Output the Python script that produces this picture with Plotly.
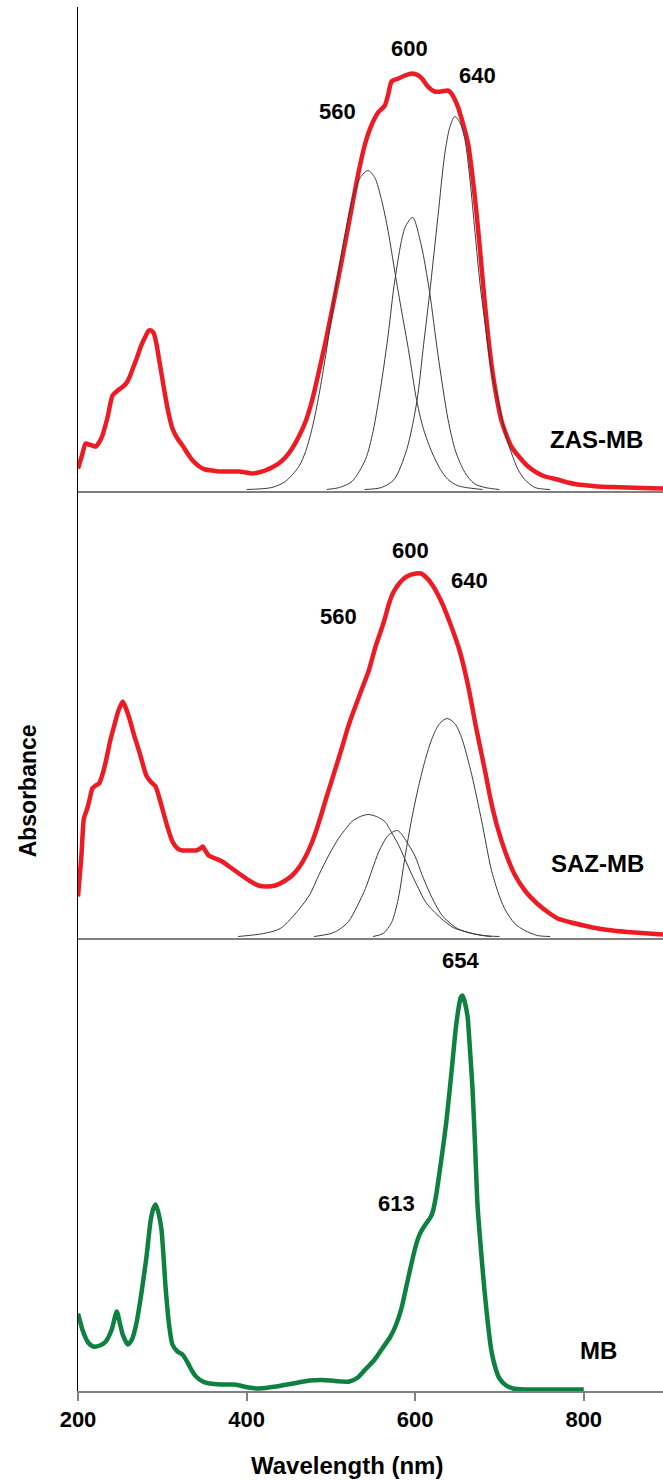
import plotly.graph_objects as go
from plotly.subplots import make_subplots

# ---------------- data (absorbance, arbitrary units) ----------------
# ZAS-MB measured spectrum
zas_wl = [200, 205, 209, 213, 217, 221, 225, 229, 235, 241, 247, 252, 257, 261, 265, 270, 275, 280, 284, 287,
          290, 293, 296, 300, 304, 308, 312, 318, 324, 330, 336, 344, 351, 359, 367, 379, 391, 399, 406, 414,
          422, 430, 438, 446, 454, 462, 470, 478, 485, 493, 501, 509, 517, 525, 533, 541,
          548, 556, 564, 568, 572, 580, 588, 596, 604, 609, 614, 619, 623, 631, 639, 643, 647, 651, 655, 659,
          663, 667, 671, 675, 679, 683, 687, 691, 695, 702, 708, 714, 724, 734, 744, 754, 769, 781, 793, 805,
          817, 833, 850, 870, 894]
zas_abs = [21, 35, 46, 45, 44, 43, 47, 54, 72, 94, 99, 102, 106, 112, 121, 132, 144, 153, 159, 159,
           156, 146, 131, 111, 91, 74, 61, 51, 44, 36, 29, 23, 20, 19, 18, 18, 18, 17, 16, 17,
           19, 22, 26, 32, 41, 53, 68, 90, 115, 145, 178, 212, 247, 283, 318, 347,
           364, 377, 384, 395, 408, 411, 414, 416, 414, 410, 404, 400, 398, 398, 399, 396, 390, 382, 371, 359,
           345, 320, 291, 257, 220, 183, 150, 122, 100, 70, 55, 43, 32, 23, 17, 13, 10, 7, 5, 4,
           3, 2.5, 2, 1.5, 1]

# ZAS-MB fitted components
zas_c1_wl = [400, 430, 446, 462, 470, 478, 486, 494, 502, 510, 518, 526, 535, 544, 552, 560, 568, 576, 584, 592, 602, 610, 620, 630, 639, 650, 660, 680]
zas_c1_abs = [0, 2, 8, 23, 38, 62, 95, 135, 180, 222, 260, 292, 312, 319, 312, 290, 258, 217, 178, 140, 88, 60, 37, 20, 10, 4, 2, 0]
zas_c2_wl = [495, 510, 525, 541, 550, 560, 568, 576, 588, 597, 607, 617, 627, 639, 648, 659, 670, 683, 700]
zas_c2_abs = [0, 2, 8, 30, 58, 107, 155, 210, 262, 272, 245, 198, 135, 70, 38, 17, 6, 2, 0]
zas_c3_wl = [540, 560, 575, 590, 602, 610, 617, 627, 635, 641, 647, 653, 659, 665, 671, 677, 683, 690, 698, 706, 714, 722, 730, 742, 760]
zas_c3_abs = [0, 2, 10, 40, 88, 145, 195, 273, 335, 362, 373, 367, 350, 310, 257, 205, 165, 122, 90, 60, 37, 20, 10, 2, 0]

# SAZ-MB measured spectrum
saz_wl = [200, 202, 204, 207, 211, 214, 217, 221, 225, 229, 233, 238, 243, 248, 253, 256, 261, 267, 273, 277,
          281, 286, 292, 296, 300, 306, 312, 318, 324, 332, 340, 345, 348, 351, 355, 363, 371, 381, 391, 403,
          414, 424, 434, 444, 454, 463, 470, 477, 483, 489, 495, 501, 511, 521, 529, 537, 545, 553, 563, 569, 574,
          582, 590, 601, 607, 612, 620, 631, 642, 653, 663, 672, 683, 690, 698, 708, 718, 731, 746, 758, 769,
          785, 800, 817, 834, 860, 894]
saz_abs = [40, 60, 80, 118, 128, 138, 148, 151, 153, 162, 175, 195, 211, 226, 235, 230, 218, 200, 184, 172,
           161, 155, 150, 140, 128, 110, 95, 88, 86, 86, 86, 88, 90, 86, 81, 78, 75, 69, 63, 56,
           51, 50, 51, 55, 61, 70, 80, 93, 107, 123, 140, 156, 183, 211, 230, 248, 266, 290, 315, 333, 344,
           354, 360, 363, 363, 360, 352, 335, 312, 285, 250, 210, 165, 135, 108, 82, 62, 45, 32, 24, 18,
           14, 11, 8, 6, 4, 2]

# SAZ-MB fitted components
saz_c1_wl = [390, 420, 440, 462, 475, 486, 498, 509, 518, 525, 535, 544, 554, 564, 572, 580, 588, 596, 604, 612, 621, 631, 645, 659, 680, 700]
saz_c1_abs = [0, 3, 8, 27, 42, 62, 82, 98, 108, 115, 120, 122, 120, 115, 104, 92, 77, 62, 48, 35, 26, 18, 9, 5, 1, 0]
saz_c2_wl = [480, 500, 510, 521, 531, 541, 549, 557, 568, 579, 592, 600, 608, 616, 624, 632, 639, 650, 667, 690]
saz_c2_abs = [0, 3, 7, 15, 30, 48, 67, 85, 101, 106, 92, 80, 62, 46, 32, 21, 15, 8, 3, 0]
saz_c3_wl = [550, 562, 572, 580, 588, 596, 604, 612, 620, 629, 638, 647, 655, 667, 679, 690, 698, 706, 718, 730, 745, 760]
saz_c3_abs = [0, 3, 14, 38, 80, 118, 150, 177, 198, 213, 218, 213, 199, 162, 115, 68, 45, 28, 13, 6, 1, 0]

# MB measured spectrum
mb_wl = [200, 206, 212, 218, 226, 233, 240, 246, 250, 253, 259, 264, 269, 275, 281, 286, 289, 292, 295, 299,
         304, 308, 312, 318, 324, 330, 335, 340, 348, 356, 370, 384, 392, 399, 407, 415, 435, 455, 475, 490, 505,
         522, 532, 542, 552, 561, 570, 577, 584, 589, 594, 599, 603, 607, 613, 618, 621, 625, 629, 633, 637,
         641, 645, 648, 652, 654, 656, 658, 662, 665, 668, 671, 674, 678, 682, 686, 690, 695, 700, 708, 716,
         730, 760, 800]
mb_abs = [76, 58, 47, 43, 44, 48, 60, 78, 65, 55, 45, 50, 65, 95, 131, 168, 180, 185, 178, 160,
          101, 65, 45, 38, 35, 27, 19, 13, 8, 6, 5, 5, 4, 2.5, 1.5, 1, 3, 6, 9, 9.5, 8.5,
          8, 12, 21, 30, 41, 52, 64, 82, 101, 120, 138, 150, 158, 166, 172, 178, 195, 218, 242, 268,
          300, 334, 360, 384, 392, 394, 390, 374, 340, 301, 245, 184, 140, 101, 68, 41, 22, 11, 4, 1,
          0, 0, 0]

x_ticks = [200, 400, 600, 800]

# ---------------- styling ----------------
RED = "#ED1C24"
GREEN = "#0E8040"
COMP = "#3a3a3a"
BASE = "#808080"
FONT = "Liberation Sans, Arial, sans-serif"

fig = make_subplots(rows=3, cols=1, shared_xaxes=True, vertical_spacing=0,
                    row_heights=[484, 447, 453])

def spec(x, y, color, row):
    fig.add_trace(go.Scatter(x=x, y=y, mode="lines",
                             line=dict(color=color, width=4.5, shape="spline", smoothing=0.6),
                             showlegend=False, hoverinfo="skip"), row=row, col=1)

def comp(x, y, row):
    fig.add_trace(go.Scatter(x=x, y=y, mode="lines",
                             line=dict(color=COMP, width=1, shape="spline", smoothing=0.8),
                             showlegend=False, hoverinfo="skip"), row=row, col=1)

spec(zas_wl, zas_abs, RED, 1)
comp(zas_c1_wl, zas_c1_abs, 1)
comp(zas_c2_wl, zas_c2_abs, 1)
comp(zas_c3_wl, zas_c3_abs, 1)

spec(saz_wl, saz_abs, RED, 2)
comp(saz_c1_wl, saz_c1_abs, 2)
comp(saz_c2_wl, saz_c2_abs, 2)
comp(saz_c3_wl, saz_c3_abs, 2)

spec(mb_wl, mb_abs, GREEN, 3)

for r in (1, 2, 3):
    fig.update_xaxes(range=[200, 894], showline=True, linecolor=BASE, linewidth=1.5,
                     showgrid=False, zeroline=False, ticks="", showticklabels=False, row=r, col=1)
fig.update_xaxes(ticks="outside", ticklen=8, tickwidth=1.5, tickcolor=BASE,
                 tickvals=x_ticks, showticklabels=True,
                 tickfont=dict(family=FONT, size=22, color="black", weight="bold"),
                 row=3, col=1)

yranges = {1: [-1.5, 482.5], 2: [-1.5, 445.5], 3: [-1.5, 451.5]}
for r, rg in yranges.items():
    fig.update_yaxes(range=rg, showline=True, linecolor="black", linewidth=1,
                     showgrid=False, zeroline=False, ticks="", showticklabels=False, row=r, col=1)

def label(text, x, y, row, size=22):
    yref = "y" if row == 1 else f"y{row}"
    xref = "x" if row == 1 else f"x{row}"
    fig.add_annotation(text=text, x=x, y=y, xref=xref, yref=yref, showarrow=False,
                       font=dict(family=FONT, size=size, color="black", weight="bold"),
                       xanchor="center", yanchor="middle")

label("560", 508, 378, 1)
label("600", 593, 441, 1)
label("640", 674, 414, 1)
label("ZAS-MB", 815, 50, 1, 24)

label("560", 509, 320, 2)
label("600", 594, 386, 2)
label("640", 664, 356, 2)
label("SAZ-MB", 816, 73, 2, 24)

label("654", 654, 429, 3)
label("613", 578, 186, 3)
label("MB", 818, 39, 3, 24)

fig.add_annotation(text="Absorbance", xref="paper", yref="paper", x=-0.0855, y=0.434,
                   textangle=-90, showarrow=False, xanchor="center", yanchor="middle",
                   font=dict(family=FONT, size=23, color="black", weight="bold"))
fig.add_annotation(text="Wavelength (nm)", xref="paper", yref="paper", x=0.46, y=-0.0535,
                   showarrow=False, xanchor="center", yanchor="middle",
                   font=dict(family=FONT, size=24, color="black", weight="bold"))

fig.update_layout(width=663, height=1480, margin=dict(l=78, r=0, t=7, b=89),
                  paper_bgcolor="white", plot_bgcolor="white")

fig.write_html("out.html")
